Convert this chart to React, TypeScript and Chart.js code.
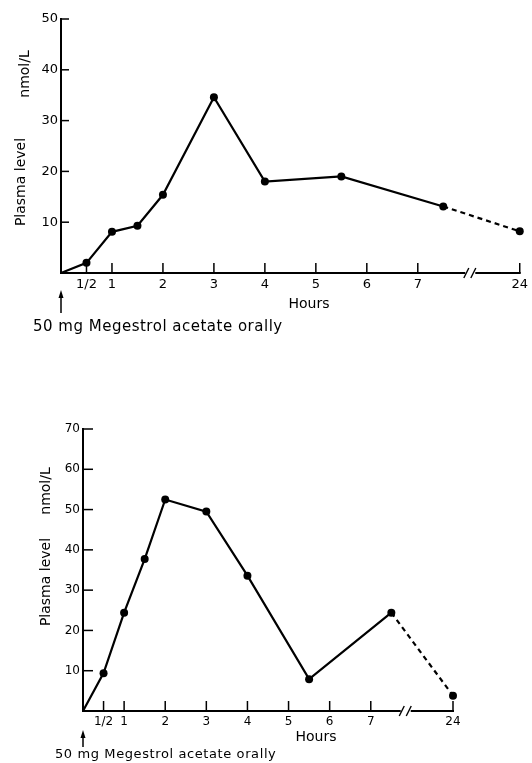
import React, { useEffect, useRef } from "react";
import { Chart, registerables } from "chart.js";

Chart.register(...registerables);
Chart.defaults.font.family = "'DejaVu Sans', sans-serif";
Chart.defaults.color = "#000";

// ---- data ----
const HOURS = [0, 0.5, 1, 1.5, 2, 3, 4, 5.5, 7.5, 24];
const TOP_LEVELS = [0, 2.0, 8.1, 9.3, 15.4, 34.6, 18.0, 19.0, 13.1, 8.2];
const BOTTOM_LEVELS = [0, 9.4, 24.4, 37.7, 52.5, 49.5, 33.6, 7.9, 24.4, 3.8];
const TICK_HOURS = [0.5, 1, 2, 3, 4, 5, 6, 7, 24];
const TICK_LABELS = ["1/2", "1", "2", "3", "4", "5", "6", "7", "24"];
const TOP_Y_TICKS = [10, 20, 30, 40, 50];
const BOTTOM_Y_TICKS = [10, 20, 30, 40, 50, 60, 70];
const X_TITLE = "Hours";
const Y_TITLE = "Plasma level";
const Y_UNIT = "nmol/L";
const CAPTION = "50 mg Megestrol acetate orally";

// broken time axis: everything after the break is drawn one unit past it
const BREAK_HOUR = 8;
const toAxis = (h: number) => (h > BREAK_HOUR ? BREAK_HOUR + 1 : h);

const line = (ctx: CanvasRenderingContext2D, x1: number, y1: number, x2: number, y2: number) => {
  ctx.beginPath();
  ctx.moveTo(x1, y1);
  ctx.lineTo(x2, y2);
  ctx.stroke();
};

const decorPlugin = {
  id: "decor",
  afterDraw(chart: any, _args: any, o: any) {
    const { ctx, chartArea: a, scales } = chart;
    const x = scales.x;
    const y = scales.y;
    ctx.save();
    ctx.strokeStyle = "#000";
    ctx.fillStyle = "#000";
    ctx.lineCap = "butt";
    // x axis line with break
    const bx = x.getPixelForValue(o.breakAt);
    ctx.lineWidth = 2;
    line(ctx, a.left - 1, a.bottom, bx - 5, a.bottom);
    line(ctx, bx + 5, a.bottom, a.right + 1, a.bottom);
    ctx.lineWidth = 1.4;
    for (const dx of [-4, 3]) line(ctx, bx + dx - 2.5, a.bottom + 5, bx + dx + 2.5, a.bottom - 5);
    // inward ticks
    ctx.lineWidth = 1.5;
    TICK_HOURS.forEach((h) => {
      const px = x.getPixelForValue(toAxis(h));
      line(ctx, px, a.bottom, px, a.bottom - o.xTickLen);
    });
    (o.yTicks as number[]).forEach((v) => {
      const py = y.getPixelForValue(v);
      line(ctx, a.left, py, a.left + o.yTickLen, py);
    });
    // y titles (rotated)
    ctx.font = `${o.yTitleSize}px 'DejaVu Sans', sans-serif`;
    ctx.textAlign = "center";
    ctx.textBaseline = "alphabetic";
    const rot = (t: string, bxp: number, cy: number) => {
      ctx.save();
      ctx.translate(bxp, cy);
      ctx.rotate(-Math.PI / 2);
      ctx.fillText(t, 0, 0);
      ctx.restore();
    };
    rot(Y_TITLE, o.yTitleX, o.yTitleY);
    rot(Y_UNIT, o.yUnitX, o.yUnitY);
    // x title
    ctx.font = `${o.xTitleSize}px 'DejaVu Sans', sans-serif`;
    ctx.textBaseline = "middle";
    ctx.fillText(X_TITLE, o.xTitleX, o.xTitleY);
    // arrow
    ctx.lineWidth = 1.5;
    line(ctx, a.left, o.arrowBottom, a.left, o.arrowTop + 4);
    ctx.beginPath();
    ctx.moveTo(a.left, o.arrowTop);
    ctx.lineTo(a.left - 2.5, o.arrowTop + 8);
    ctx.lineTo(a.left + 2.5, o.arrowTop + 8);
    ctx.closePath();
    ctx.fill();
    // caption
    ctx.font = `${o.captionSize}px 'DejaVu Sans', sans-serif`;
    (ctx as any).letterSpacing = o.captionSpacing;
    ctx.textAlign = "left";
    ctx.fillText(CAPTION, o.captionX, o.captionY);
    (ctx as any).letterSpacing = "0px";
    ctx.restore();
  },
};

type PanelProps = {
  top: number;
  height: number;
  area: { left: number; top: number; right: number; bottom: number };
  levels: number[];
  yMax: number;
  yTicks: number[];
  tickSize: number;
  decor: any;
};

function Panel({ top, height, area, levels, yMax, yTicks, tickSize, decor }: PanelProps) {
  const ref = useRef<HTMLCanvasElement | null>(null);
  useEffect(() => {
    if (!ref.current) return;
    const n = HOURS.length;
    const chart = new Chart(ref.current, {
      type: "line",
      data: {
        datasets: [
          {
            data: HOURS.map((h, i) => ({ x: toAxis(h), y: levels[i] })),
            borderColor: "#000",
            borderWidth: 2.2,
            tension: 0,
            pointRadius: HOURS.map((_, i) => (i === 0 ? 0 : 4)),
            pointBackgroundColor: "#000",
            pointBorderColor: "#000",
            pointBorderWidth: 0,
            clip: false as any,
            segment: {
              borderDash: (c: any) => (c.p1DataIndex === n - 1 ? [5, 4] : undefined),
            },
          },
        ],
      },
      options: {
        animation: false,
        responsive: false,
        events: [],
        layout: { padding: { left: 0, top: area.top, right: 532 - area.right, bottom: 0 } },
        plugins: {
          legend: { display: false },
          tooltip: { enabled: false },
          decor,
        } as any,
        scales: {
          x: {
            type: "linear",
            min: 0,
            max: BREAK_HOUR + 1,
            grid: { display: false, drawTicks: false },
            border: { display: false },
            afterBuildTicks: (s: any) => {
              s.ticks = TICK_HOURS.map((h) => ({ value: toAxis(h) }));
            },
            afterFit: (s: any) => {
              s.height = height - area.bottom;
            },
            ticks: {
              autoSkip: false,
              maxRotation: 0,
              padding: 4,
              color: "#000",
              font: { size: tickSize },
              callback: (_v: any, i: number) => TICK_LABELS[i] ?? "",
            },
          },
          y: {
            type: "linear",
            min: 0,
            max: yMax,
            grid: { display: false, drawTicks: false },
            border: { display: true, color: "#000", width: 2 },
            afterFit: (s: any) => {
              s.width = area.left;
            },
            ticks: {
              stepSize: 10,
              padding: 3,
              color: "#000",
              font: { size: tickSize },
              callback: (v: any) => (v === 0 ? "" : String(v)),
            },
          },
        },
      },
      plugins: [decorPlugin as any],
    });
    return () => chart.destroy();
  }, []);
  return (
    <canvas
      ref={ref}
      width={532}
      height={height}
      style={{ position: "absolute", left: 0, top, width: 532, height }}
    />
  );
}

export default function App() {
  return (
    <div style={{ position: "absolute", left: 0, top: 0, width: 532, height: 763, background: "#fff" }}>
      <Panel
        top={0}
        height={380}
        area={{ left: 61, top: 19, right: 521, bottom: 273 }}
        levels={TOP_LEVELS}
        yMax={50}
        yTicks={TOP_Y_TICKS}
        tickSize={13}
        decor={{
          breakAt: 8.03,
          xTickLen: 10,
          yTickLen: 8,
          yTicks: TOP_Y_TICKS,
          yTitleSize: 14,
          yTitleX: 25,
          yTitleY: 182,
          yUnitX: 29,
          yUnitY: 74,
          xTitleSize: 14,
          xTitleX: 309,
          xTitleY: 304,
          arrowTop: 290,
          arrowBottom: 313,
          captionSize: 15,
          captionSpacing: "0.5px",
          captionX: 33,
          captionY: 327,
        }}
      />
      <Panel
        top={380}
        height={383}
        area={{ left: 83, top: 49, right: 453, bottom: 331 }}
        levels={BOTTOM_LEVELS}
        yMax={70}
        yTicks={BOTTOM_Y_TICKS}
        tickSize={12}
        decor={{
          breakAt: 7.85,
          xTickLen: 10,
          yTickLen: 10,
          yTicks: BOTTOM_Y_TICKS,
          yTitleSize: 14,
          yTitleX: 50,
          yTitleY: 202,
          yUnitX: 50,
          yUnitY: 111,
          xTitleSize: 14,
          xTitleX: 316,
          xTitleY: 357,
          arrowTop: 350,
          arrowBottom: 367,
          captionSize: 13,
          captionSpacing: "0.6px",
          captionX: 55,
          captionY: 375,
        }}
      />
    </div>
  );
}
